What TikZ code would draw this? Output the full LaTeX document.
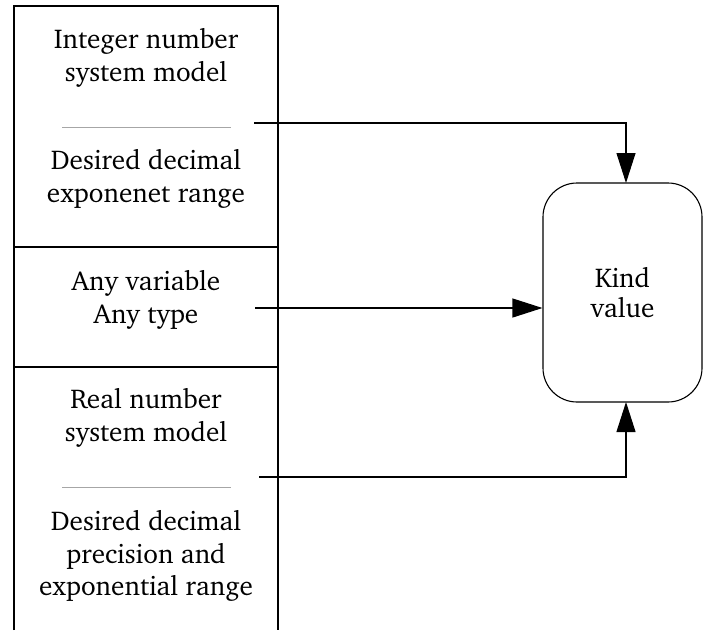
\documentclass[tikz,border=0pt]{standalone}
\usepackage[T1]{fontenc}
\usepackage{charter}
\usetikzlibrary{arrows.meta}
\begin{document}
\begin{tikzpicture}[x=1pt,y=-1pt,
  txt/.style={align=center,inner sep=0pt,font=\fontsize{27.2}{32.5}\selectfont},
  frame/.style={line width=1.1pt,black},
  sep/.style={line width=1pt,gray!70},
  conn/.style={line width=1.1pt,-{Triangle[length=30pt,width=19pt]}},
  kindbox/.style={draw,line width=1.1pt,rounded corners=34pt,minimum width=159pt,minimum height=219pt,inner sep=0pt,font=\fontsize{27.2}{30}\selectfont,align=center}]
\useasboundingbox (0,0) rectangle (703,630);
% left column frame
\draw[frame] (14,630) -- (14,6) -- (278,6) -- (278,630);
\draw[frame] (14,247) -- (278,247);
\draw[frame] (14,367) -- (278,367);
\draw[sep] (62,127) -- (231,127);
\draw[sep] (62,487) -- (231,487);
% texts
\node[txt] (t1) at (146,58) {Integer number\\system model};
\node[txt] (t2) at (146,179) {Desired decimal\\exponenet range};
\node[txt] (t3) at (146,300) {Any variable\\Any type};
\node[txt] (t4) at (146,418) {Real number\\system model};
\node[txt] (t5) at (146,556) {Desired decimal\\precision and\\exponential range};
% kind value box
\node[kindbox] (kind) at (622.5,292.5) {Kind\\value};
% connectors
\coordinate (s1) at (254,123);
\coordinate (s2) at (255,308);
\coordinate (s3) at (259,477);
\coordinate (k1) at (626,183);
\coordinate (k3) at (626,402);
\draw[conn] (s1) -| (k1);
\draw[conn] (s2) -- (s2 -| kind.west);
\draw[conn] (s3) -| (k3);
\end{tikzpicture}
\end{document}
